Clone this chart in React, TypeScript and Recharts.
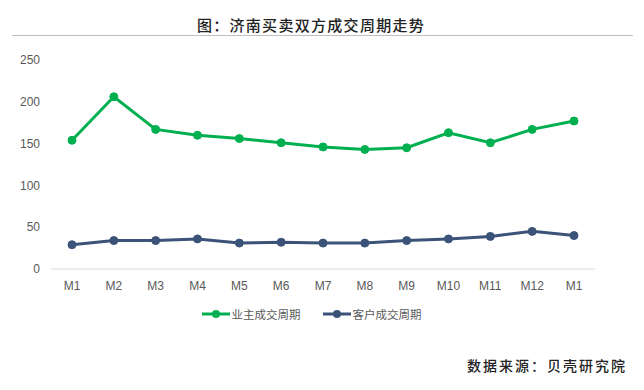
import React from 'react';
import { LineChart, Line, XAxis, YAxis, Legend } from 'recharts';

const months = ['M1', 'M2', 'M3', 'M4', 'M5', 'M6', 'M7', 'M8', 'M9', 'M10', 'M11', 'M12', 'M1'];
const ownerCycle = [154, 206, 167, 160, 156, 151, 146, 143, 145, 163, 151, 167, 177];
const clientCycle = [29, 34, 34, 36, 31, 32, 31, 31, 34, 36, 39, 45, 40];
const yTicks = [0, 50, 100, 150, 200, 250];

const GREEN = '#00b050';
const NAVY = '#3b5378';

const data = months.map((m, i) => ({ month: m, owner: ownerCycle[i], client: clientCycle[i] }));

const legendItems = [
  { name: '业主成交周期', color: GREEN },
  { name: '客户成交周期', color: NAVY },
];

const renderLegend = () => (
  <div style={{ display: 'flex', justifyContent: 'center', gap: 22, height: 17, alignItems: 'center', fontFamily: '"Noto Sans CJK SC", sans-serif', fontSize: 11.5, color: '#595959', paddingLeft: 28 }}>
    {legendItems.map(item => (
      <div key={item.name} style={{ display: 'flex', alignItems: 'center' }}>
        <svg width={28} height={10} style={{ marginRight: 2 }}>
          <line x1={0} y1={5} x2={28} y2={5} stroke={item.color} strokeWidth={3} />
          <circle cx={14} cy={5} r={4} fill={item.color} />
        </svg>
        <span>{item.name}</span>
      </div>
    ))}
  </div>
);

export default function App() {
  return (
    <div style={{ position: 'absolute', left: 0, top: 0, width: 644, height: 390, background: '#fff' }}>
      <div style={{ position: 'absolute', left: 0, top: 14, width: 622, textAlign: 'center', fontFamily: '"Noto Sans CJK SC", serif', fontSize: 15, letterSpacing: 1.3, color: '#222', fontWeight: 500 }}>
        图：济南买卖双方成交周期走势
      </div>
      <div style={{ position: 'absolute', left: 12, top: 35, width: 621, height: 1, background: '#bfbfbf' }} />
      <LineChart width={644} height={390} data={data} margin={{ top: 60, right: 49, left: 0, bottom: 74 }}>
        <XAxis
          dataKey="month"
          padding={{ left: 21, right: 21 }}
          tickLine={false}
          axisLine={{ stroke: '#d9d9d9' }}
          tick={{ fill: '#595959', fontSize: 12, fontFamily: '"Liberation Sans", Arial, sans-serif' }}
          tickMargin={6}
          interval={0}
        />
        <YAxis
          width={51}
          domain={[0, 250]}
          ticks={yTicks}
          axisLine={false}
          tickLine={false}
          tickMargin={5}
          tick={{ fill: '#595959', fontSize: 12, fontFamily: '"Liberation Sans", Arial, sans-serif' }}
        />
        <Legend verticalAlign="bottom" content={renderLegend} wrapperStyle={{ bottom: 68 }} />
        <Line
          dataKey="owner"
          name="业主成交周期"
          stroke={GREEN}
          strokeWidth={3}
          dot={{ r: 4, fill: GREEN, stroke: GREEN, strokeWidth: 1 }}
          isAnimationActive={false}
        />
        <Line
          dataKey="client"
          name="客户成交周期"
          stroke={NAVY}
          strokeWidth={3}
          dot={{ r: 4, fill: NAVY, stroke: NAVY, strokeWidth: 1 }}
          isAnimationActive={false}
        />
      </LineChart>
      <div style={{ position: 'absolute', right: 17, top: 355, fontFamily: '"Noto Sans CJK SC", serif', fontSize: 14, letterSpacing: 2, color: '#222', fontWeight: 500 }}>
        数据来源：贝壳研究院
      </div>
    </div>
  );
}
